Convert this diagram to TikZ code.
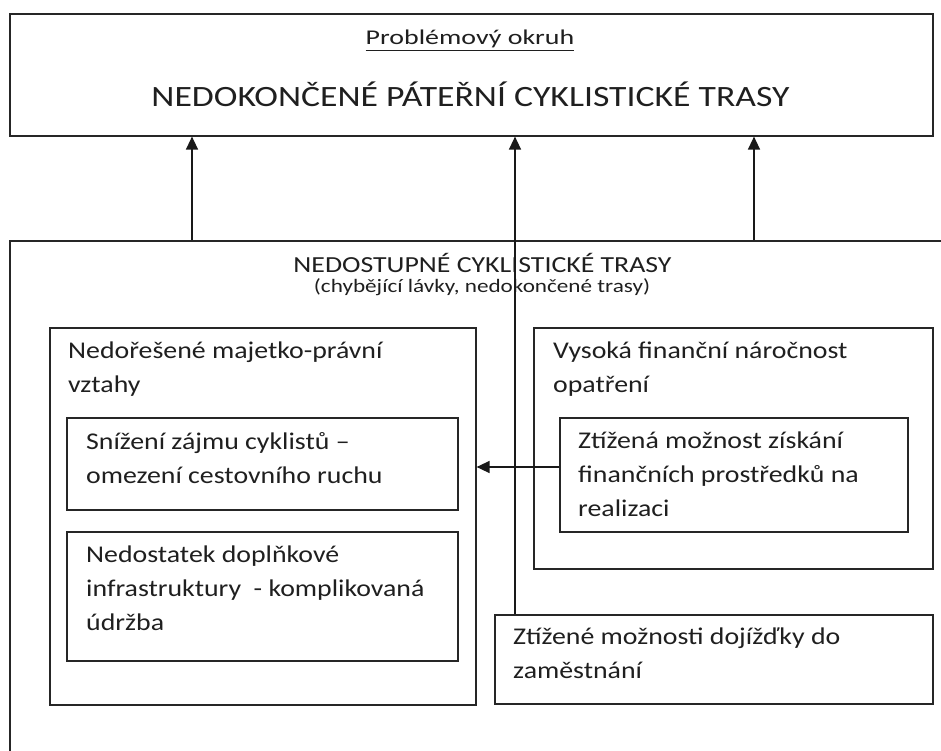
\documentclass[tikz,border=0pt]{standalone}
\usepackage{fontspec}
\setmainfont{Carlito}
\newfontfamily\stA[FakeStretch=1.21]{Carlito}
\newfontfamily\stB[FakeStretch=1.33]{Carlito}
\newfontfamily\stC[FakeStretch=1.16]{Carlito}
\newfontfamily\stD[FakeStretch=1.22]{Carlito}
\usetikzlibrary{arrows.meta}
\begin{document}
\begin{tikzpicture}[x=1pt,y=-1pt,
  box/.style={draw=black!85, line width=1.6pt, inner sep=0pt, anchor=north west},
  txt/.style={inner sep=0pt, anchor=base west, align=left, text=black!88, font=\stC\fontsize{24}{34}\selectfont},
  ctxt/.style={inner sep=0pt, anchor=base, text=black!88},
  arr/.style={line width=1.4pt, draw=black!90, -{Triangle[width=12pt,length=13pt]}}]
\useasboundingbox (0,0) rectangle (941,751);
\clip (0,0) rectangle (941,751);
% top box
\node[box, minimum width=923pt, minimum height=122pt] (top) at (9,13) {};
\node[ctxt, font=\stB\fontsize{21}{24}\selectfont] (topsub) at (470,45) {\underline{Problémový okruh}};
\node[ctxt, font=\stA\fontsize{29.5}{34}\selectfont] (toptitle) at (470.5,107) {NEDOKONČENÉ PÁTEŘNÍ CYKLISTICKÉ TRASY};
% big box (extends beyond the picture)
\node[box, minimum width=960pt, minimum height=540pt] (big) at (9,240) {};
\node[ctxt, font=\stA\fontsize{23}{28}\selectfont] (bigtitle) at (482.5,272) {NEDOSTUPNÉ CYKLISTICKÉ TRASY};
\node[ctxt, font=\stD\fontsize{19}{24}\selectfont] (bigsub) at (482,292) {(chybějící lávky, nedokončené trasy)};
% left group
\node[box, minimum width=426pt, minimum height=377pt] (left) at (49,327) {};
\node[txt] (lefttxt) at (68,392) {Nedořešené majetko-právní\\vztahy};
\node[box, minimum width=391pt, minimum height=92pt] (snizeni) at (66,417) {};
\node[txt] (snizenitxt) at (86,483) {Snížení zájmu cyklistů –\\omezení cestovního ruchu};
\node[box, minimum width=391pt, minimum height=129pt] (nedostatek) at (66,531) {};
\node[txt] (nedostatektxt) at (86,630) {Nedostatek doplňkové\\infrastruktury~ - komplikovaná\\údržba};
% right group
\node[box, minimum width=399pt, minimum height=241pt] (vysoka) at (533,327) {};
\node[txt] (vysokatxt) at (553,392) {Vysoká finanční náročnost\\opatření};
\node[box, minimum width=348pt, minimum height=114pt] (ztizena) at (559,417) {};
\node[txt] (ztizenatxt) at (578,516) {Ztížená možnost získání\\finančních prostředků na\\realizaci};
\node[box, minimum width=438pt, minimum height=89pt] (dojizdka) at (494,614) {};
\node[txt] (dojizdkatxt) at (513,678) {Ztížené možnosti dojížďky do\\zaměstnání};
% arrows
\draw[arr] (big.north west -| 192,0) -- (top.south -| 192,0);
\draw[arr] (big.north west -| 754,0) -- (top.south -| 754,0);
\draw[arr] (dojizdka.north west -| 515,0) -- (top.south -| 515,0);
\draw[arr] (ztizena.west |- 0,467) -- (left.east |- 0,467);
\end{tikzpicture}
\end{document}
